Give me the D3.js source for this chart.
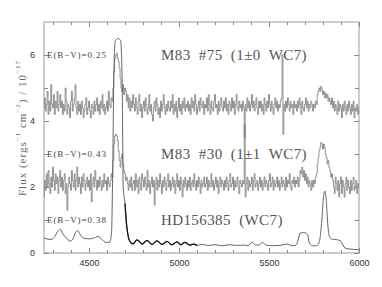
<!DOCTYPE html>
<html>
<head>
<meta charset="utf-8">
<script src="https://cdn.jsdelivr.net/npm/d3@7"></script>
<style>
  body { margin: 0; background: #fff; }
  svg text { font-family: 'Liberation Serif', 'DejaVu Serif', serif; }
</style>
</head>
<body>
<div id="chart"></div>
<script>
// spectra sampled on a 5 A grid starting at 4250 A (one row = 100 A)
const waveStart = 4250;
const waveStep = 5;

// M83 #75 (offset spectrum, step plot)
const m75Flux = [
  4.4, 4.7, 4.3, 4.5, 4.9, 4.2, 4.6, 4.3, 5.1, 4.5, 4.4, 4.8, 4.2, 4.6, 4.4, 4.9, 4.3, 4.5, 4.8, 4.4,
  4.6, 4.2, 4.5, 4.3, 5.0, 4.6, 4.2, 4.5, 4.4, 4.1, 4.6, 4.9, 4.3, 4.5, 4.7, 5.1, 4.4, 4.2, 4.6, 4.3,
  4.5, 4.2, 4.6, 4.4, 4.1, 4.3, 4.5, 4.7, 4.2, 4.4, 4.6, 4.3, 4.1, 4.5, 4.4, 4.2, 4.6, 4.3, 4.5, 4.7,
  4.3, 4.5, 4.2, 4.6, 4.4, 4.8, 4.3, 4.5, 4.2, 4.4, 4.6, 4.3, 4.9, 4.5, 4.4, 4.7, 4.6, 5.0, 5.5, 5.9,
  6.0, 6.05, 5.9, 5.8, 5.6, 5.3, 5.0, 4.9, 5.1, 4.8, 5.0, 4.9, 4.6, 4.8, 4.4, 4.7, 4.3, 4.6, 4.4, 4.8,
  4.5, 4.3, 4.7, 4.4, 4.2, 4.6, 4.8, 4.3, 4.5, 4.1, 4.4, 4.6, 4.3, 4.7, 4.5, 4.2, 4.4, 4.8, 4.3, 4.5,
  4.2, 4.0, 4.4, 4.6, 4.3, 4.7, 4.5, 4.2, 4.4, 4.1, 4.6, 4.3, 4.5, 4.8, 4.4, 4.2, 4.5, 4.3, 4.6, 4.4,
  4.3, 4.6, 4.4, 4.8, 4.2, 4.5, 4.3, 4.6, 4.1, 4.4, 4.7, 4.3, 4.5, 4.2, 4.6, 4.4, 4.7, 4.3, 4.5, 4.4,
  4.6, 4.3, 4.5, 4.2, 4.7, 4.4, 4.6, 4.3, 4.8, 4.5, 4.2, 4.4, 4.6, 4.3, 4.7, 4.5, 4.4, 4.6, 4.2, 4.5,
  4.4, 4.7, 4.3, 4.8, 4.5, 4.2, 4.6, 4.4, 4.3, 4.6, 4.8, 4.4, 4.5, 4.2, 4.6, 4.3, 4.5, 4.7, 4.4, 4.3,
  4.6, 4.4, 4.7, 4.3, 4.5, 4.2, 4.6, 4.5, 4.3, 4.7, 4.4, 4.6, 4.2, 4.5, 4.8, 4.4, 4.3, 4.6, 4.4, 4.5,
  4.3, 4.6, 4.4, 3.5, 4.5, 4.3, 4.7, 4.4, 4.6, 4.3, 4.5, 4.8, 4.4, 4.6, 4.3, 4.5, 4.7, 4.4, 4.2, 4.6,
  4.4, 4.6, 4.3, 4.5, 4.2, 4.7, 4.5, 4.3, 4.6, 4.4, 4.8, 4.5, 4.3, 4.6, 4.4, 4.2, 4.5, 4.7, 4.4, 4.6,
  4.3, 4.5, 4.4, 4.6, 4.7, 6.0, 3.6, 4.5, 4.3, 4.6, 4.4, 4.7, 4.5, 4.3, 4.6, 4.4, 4.5, 4.2, 4.6, 4.4,
  4.5, 4.3, 4.6, 4.4, 4.7, 4.5, 4.2, 4.6, 4.4, 4.3, 4.5, 4.7, 4.4, 4.6, 4.3, 4.5, 4.4, 4.6, 4.5, 4.3,
  4.5, 4.4, 4.6, 4.5, 4.8, 4.9, 5.0, 4.9, 5.05, 4.95, 4.8, 4.9, 4.7, 4.85, 4.7, 4.8, 4.6, 4.7, 4.6, 4.5,
  4.7, 4.4, 4.6, 4.3, 4.5, 4.4, 4.2, 4.6, 4.3, 4.5, 4.4, 4.1, 4.5, 4.3, 4.6, 4.4, 4.2, 4.5, 4.3, 4.6,
  4.4, 4.2, 4.5, 4.3, 4.6, 4.1, 4.4, 4.3, 4.5, 4.2, 4.4
];

// M83 #30
const m30Flux = [
  1.7, 2.2, 1.9, 2.4, 2.0, 2.5, 2.1, 1.8, 2.3, 2.0, 2.6, 2.2, 1.9, 2.4, 2.1, 2.3, 1.8, 2.2, 2.5, 2.0,
  2.3, 1.9, 2.2, 2.4, 1.8, 2.1, 1.3, 2.0, 2.3, 2.1, 1.9, 2.5, 2.2, 2.0, 2.4, 1.9, 2.2, 2.6, 2.0, 2.3,
  2.1, 1.8, 2.3, 2.0, 2.4, 2.2, 1.9, 2.1, 2.3, 2.0, 2.2, 1.9, 2.4, 1.55, 2.1, 2.3, 2.0, 2.5, 2.2, 1.9,
  2.2, 2.0, 2.3, 2.1, 1.9, 2.2, 2.0, 2.4, 2.1, 2.2, 1.9, 2.3, 2.1, 2.0, 2.2, 2.4, 2.3, 2.8, 3.3, 3.55,
  3.6, 3.55, 3.4, 3.1, 2.8, 2.6, 2.9, 3.0, 2.7, 2.5, 2.4, 2.2, 2.3, 2.1, 1.9, 2.2, 2.0, 2.3, 1.9, 2.1,
  2.2, 1.9, 2.4, 2.0, 2.2, 1.8, 2.3, 2.1, 1.9, 2.4, 2.2, 2.0, 2.3, 2.1, 1.9, 2.5, 2.0, 2.2, 1.8, 2.1,
  2.3, 2.0, 2.2, 1.45, 2.1, 2.3, 1.9, 2.2, 2.0, 2.4, 2.1, 1.8, 2.2, 2.0, 2.3, 2.1, 1.9, 2.2, 2.4, 2.0,
  2.2, 1.9, 2.1, 2.3, 2.0, 2.2, 1.8, 2.1, 2.4, 2.0, 2.2, 1.9, 2.3, 2.1, 1.7, 2.2, 2.0, 2.3, 2.1, 1.9,
  2.2, 2.0, 2.3, 1.9, 2.1, 2.2, 2.0, 2.4, 2.1, 1.9, 2.2, 2.0, 2.3, 2.1, 1.8, 2.2, 2.0, 2.1, 2.3, 2.0,
  2.1, 2.3, 1.9, 2.2, 2.0, 2.1, 2.4, 2.0, 2.2, 1.9, 2.1, 2.3, 2.0, 2.2, 1.8, 2.1, 2.3, 2.0, 2.2, 2.1,
  1.9, 2.2, 2.0, 2.3, 2.1, 1.9, 2.2, 2.4, 2.0, 2.1, 2.3, 1.9, 2.2, 2.0, 2.1, 2.3, 2.0, 1.8, 2.2, 2.1,
  2.0, 2.2, 2.1, 3.9, 1.7, 2.1, 2.3, 1.9, 2.2, 2.0, 2.1, 2.3, 1.9, 2.2, 2.4, 2.0, 2.1, 2.2, 1.9, 2.1,
  2.3, 2.0, 2.2, 1.9, 2.1, 2.3, 2.0, 2.2, 2.1, 1.9, 2.2, 2.4, 2.0, 2.1, 2.3, 1.9, 2.2, 2.0, 2.1, 2.3,
  2.0, 2.2, 1.9, 2.1, 2.3, 2.0, 2.2, 2.1, 1.9, 2.3, 2.0, 2.2, 2.1, 2.4, 2.0, 1.9, 2.2, 2.1, 2.3, 2.0,
  2.2, 2.1, 2.3, 2.0, 2.2, 2.5, 2.4, 2.6, 2.3, 2.5, 2.2, 2.4, 2.1, 2.3, 2.0, 2.2, 2.1, 1.9, 2.2, 2.0,
  2.2, 2.1, 2.3, 2.4, 2.7, 2.9, 3.1, 3.2, 3.35, 3.3, 3.15, 3.3, 3.2, 3.0, 2.9, 2.7, 2.8, 2.6, 2.5, 2.3,
  2.4, 2.2, 2.0, 1.8, 2.3, 2.1, 1.9, 2.2, 1.7, 2.1, 2.3, 1.8, 2.2, 2.0, 1.7, 2.1, 2.3, 1.9, 2.2, 2.0,
  1.8, 2.2, 1.9, 2.1, 2.3, 1.9, 2.0, 2.2, 1.8, 2.1, 2.0
];

// HD156385 (template WC7 star, smooth)
const hdWave = [
  4250, 4270, 4290, 4310, 4325, 4340, 4355, 4375, 4395, 4410,
  4425, 4437, 4452, 4470, 4500, 4525, 4550, 4570, 4595, 4615,
  4625, 4632, 4638, 4645, 4660, 4675, 4684, 4690, 4700, 4708,
  4718, 4730, 4745, 4767, 4795, 4822, 4850, 4878, 4905, 4933,
  4960, 4989, 5010, 5033, 5060, 5080, 5100, 5130, 5160, 5200,
  5240, 5280, 5320, 5360, 5385, 5405, 5425, 5445, 5462, 5485,
  5520, 5560, 5600, 5630, 5650, 5662, 5672, 5690, 5705, 5715,
  5724, 5740, 5765, 5780, 5792, 5803, 5811, 5818, 5826, 5836,
  5850, 5880, 5900, 5922, 5950, 6000
];
const hdFlux = [
  0.45, 0.42, 0.41, 0.50, 0.65, 0.72, 0.58, 0.45, 0.36, 0.42,
  0.62, 0.68, 0.55, 0.45, 0.43, 0.45, 0.50, 0.42, 0.32, 0.33,
  0.60, 2.60, 5.40, 6.40, 6.50, 6.45, 5.30, 2.00, 1.50, 0.90,
  0.50, 0.33, 0.28, 0.40, 0.27, 0.38, 0.26, 0.37, 0.26, 0.35,
  0.25, 0.34, 0.25, 0.32, 0.24, 0.27, 0.23, 0.26, 0.23, 0.25,
  0.22, 0.25, 0.23, 0.24, 0.22, 0.33, 0.25, 0.24, 0.32, 0.24,
  0.22, 0.23, 0.27, 0.22, 0.24, 0.40, 0.60, 0.62, 0.60, 0.55,
  0.30, 0.22, 0.22, 0.35, 0.90, 1.70, 1.88, 1.60, 0.90, 0.50,
  0.42, 0.40, 0.35, 0.15, 0.12, 0.10
];

const xTicks = [4500, 5000, 5500, 6000];
const yTicks = [0, 2, 4, 6];
const labelLevels = [6, 3, 1];
const ebvLabels = ['E(B\u2212V)=0.25', 'E(B\u2212V)=0.43', 'E(B\u2212V)=0.38'];
const starLabels = ['M83  #75  (1\u00b10  WC7)', 'M83  #30  (1\u00b11  WC7)', 'HD156385  (WC7)'];

const svgWidth = 382;
const svgHeight = 287;

const margin = {
  top: 22,
  right: 23,
  bottom: 34,
  left: 44
};

const width = svgWidth - margin.left - margin.right;
const height = svgHeight - margin.top - margin.bottom;

const svg = d3.select('#chart')
  .append('svg')
  .attr('width', svgWidth)
  .attr('height', svgHeight);

const chartGroup = svg.append('g')
  .attr('transform', `translate(${margin.left}, ${margin.top})`);

const xScale = d3.scaleLinear().domain([4250, 6000]).range([0, width]);
const yScale = d3.scaleLinear().domain([0, 7]).range([height, 0]);

const m75 = m75Flux.map((f, i) => ({ w: waveStart + i * waveStep, f }));
const m30 = m30Flux.map((f, i) => ({ w: waveStart + i * waveStep, f }));
const hd = hdWave.map((w, i) => ({ w, f: hdFlux[i] }));

const stepLine = d3.line()
  .x(d => xScale(d.w))
  .y(d => yScale(d.f))
  .curve(d3.curveStep);

const smoothLine = d3.line()
  .x(d => xScale(d.w))
  .y(d => yScale(d.f))
  .curve(d3.curveMonotoneX);

// spectra
[m75, m30].forEach(spec => {
  chartGroup.append('path').datum(spec)
    .attr('d', stepLine)
    .attr('fill', 'none')
    .attr('stroke', '#777')
    .attr('stroke-width', 0.8);
});

chartGroup.append('path').datum(hd)
  .attr('d', smoothLine)
  .attr('fill', 'none')
  .attr('stroke', '#555')
  .attr('stroke-width', 0.9);

// darker stretch just redward of 4686
chartGroup.append('path').datum(hd.filter(d => d.w >= 4700 && d.w <= 5100))
  .attr('d', smoothLine)
  .attr('fill', 'none')
  .attr('stroke', '#111')
  .attr('stroke-width', 1.3);

// frame
chartGroup.append('rect')
  .attr('width', width)
  .attr('height', height)
  .attr('fill', 'none')
  .attr('stroke', '#999');

const xMinor = d3.range(4300, 6000, 100).filter(v => v % 500 !== 0);
const yMinor = [1, 3, 5];

const styleAxis = g => {
  g.select('.domain').remove();
  g.selectAll('.tick line').attr('stroke', '#888');
  g.selectAll('.tick text')
    .style('font-family', "'Liberation Sans', Arial, sans-serif")
    .style('font-size', '9px')
    .attr('fill', '#333');
};

chartGroup.append('g')
  .attr('transform', `translate(0, ${height})`)
  .call(d3.axisBottom(xScale).tickValues(xTicks).tickSize(-5).tickPadding(7).tickFormat(d3.format('d')))
  .call(styleAxis);
chartGroup.append('g')
  .attr('transform', `translate(0, ${height})`)
  .call(d3.axisBottom(xScale).tickValues(xMinor).tickSize(-3).tickFormat(''))
  .call(styleAxis);
chartGroup.append('g')
  .call(d3.axisTop(xScale).tickValues(xTicks).tickSize(-5).tickFormat(''))
  .call(styleAxis);
chartGroup.append('g')
  .call(d3.axisTop(xScale).tickValues(xMinor).tickSize(-3).tickFormat(''))
  .call(styleAxis);

chartGroup.append('g')
  .call(d3.axisLeft(yScale).tickValues(yTicks).tickSize(-5).tickPadding(9).tickFormat(d3.format('d')))
  .call(styleAxis);
chartGroup.append('g')
  .call(d3.axisLeft(yScale).tickValues(yMinor).tickSize(-4).tickFormat(''))
  .call(styleAxis);
chartGroup.append('g')
  .attr('transform', `translate(${width}, 0)`)
  .call(d3.axisRight(yScale).tickValues(yTicks).tickSize(-5).tickFormat(''))
  .call(styleAxis);
chartGroup.append('g')
  .attr('transform', `translate(${width}, 0)`)
  .call(d3.axisRight(yScale).tickValues(yMinor).tickSize(-4).tickFormat(''))
  .call(styleAxis);

// reddening labels
chartGroup.selectAll('.ebv')
  .data(ebvLabels)
  .enter()
  .append('text')
  .attr('x', 3)
  .attr('y', (d, i) => yScale(labelLevels[i]))
  .attr('dominant-baseline', 'central')
  .style('font-size', '9px')
  .style('letter-spacing', '0.9px')
  .attr('fill', '#444')
  .text(d => d);

// star names
chartGroup.selectAll('.star')
  .data(starLabels)
  .enter()
  .append('text')
  .attr('xml:space', 'preserve')
  .style('white-space', 'pre')
  .attr('x', xScale(4900))
  .attr('y', (d, i) => yScale(labelLevels[i]))
  .attr('dominant-baseline', 'central')
  .style('font-size', '15px')
  .style('letter-spacing', '0.4px')
  .attr('fill', '#555')
  .text(d => d);

// y axis title
const yTitle = svg.append('text')
  .attr('transform', `translate(22, ${margin.top + 106}) rotate(-90)`)
  .attr('text-anchor', 'middle')
  .attr('dominant-baseline', 'central')
  .style('font-size', '11px')
  .style('letter-spacing', '1px')
  .attr('fill', '#666');
yTitle.append('tspan').text('Flux (ergs');
yTitle.append('tspan').attr('dy', -4).style('font-size', '7px').text('\u22121');
yTitle.append('tspan').attr('dy', 4).text(' cm');
yTitle.append('tspan').attr('dy', -4).style('font-size', '7px').text('\u22122');
yTitle.append('tspan').attr('dy', 4).text(') / 10');
yTitle.append('tspan').attr('dy', -4).style('font-size', '7px').text('\u221217');
</script>
</body>
</html>
